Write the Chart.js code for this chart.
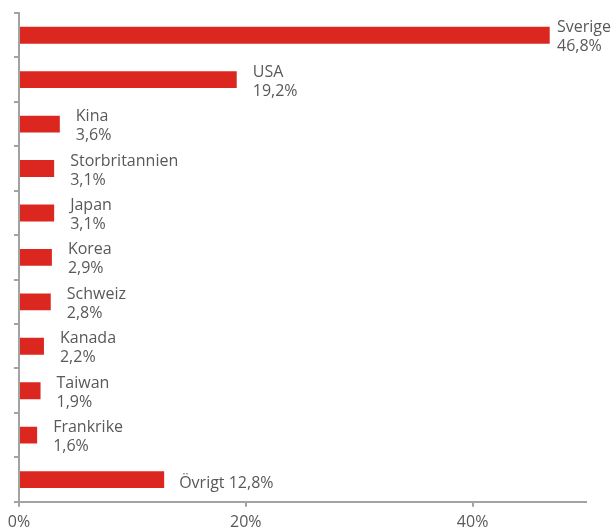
<!DOCTYPE html>
<html>
<head>
<meta charset="utf-8">
<script src="https://cdn.jsdelivr.net/npm/chart.js@4"></script>
<style>
    html, body { margin: 0; padding: 0; background: #fff; }
    #wrap { width: 613px; height: 528px; }
</style>
</head>
<body>
<div id="wrap"><canvas id="countryChart"></canvas></div>
<script>
const countries = ['Sverige', 'USA', 'Kina', 'Storbritannien', 'Japan', 'Korea', 'Schweiz', 'Kanada', 'Taiwan', 'Frankrike', 'Övrigt'];
const shares = [46.8, 19.2, 3.6, 3.1, 3.1, 2.9, 2.8, 2.2, 1.9, 1.6, 12.8];
const shareLabels = ['46,8%', '19,2%', '3,6%', '3,1%', '3,1%', '2,9%', '2,8%', '2,2%', '1,9%', '1,6%', '12,8%'];

const FONT = "'Open Sans', sans-serif";
const TEXT_COLOR = '#595959';
const AXIS_COLOR = '#a3a3a3';
const BAR_COLOR = '#dc2620';

// draws "name / value" next to each bar, last one on a single line
const barLabels = {
    id: 'barLabels',
    afterDatasetsDraw(chart) {
        const ctx = chart.ctx;
        const meta = chart.getDatasetMeta(0);
        ctx.save();
        ctx.font = `16px ${FONT}`;
        ctx.fillStyle = TEXT_COLOR;
        ctx.textAlign = 'left';
        ctx.textBaseline = 'alphabetic';
        meta.data.forEach((bar, i) => {
            const top = bar.y - bar.height / 2;
            const last = i === countries.length - 1;
            if (last) {
                ctx.fillText(`${countries[i]} ${shareLabels[i]}`, bar.x + 15, bar.y + 8.5);
                return;
            }
            const w = Math.max(ctx.measureText(countries[i]).width, ctx.measureText(shareLabels[i]).width);
            const x = Math.min(bar.x + 16, chart.width - w - 2);
            ctx.fillText(countries[i], x, top + 5.5);
            ctx.fillText(shareLabels[i], x, top + 24.5);
        });
        ctx.restore();
    }
};

new Chart(document.getElementById('countryChart').getContext('2d'), {
    type: 'bar',
    data: {
        labels: countries,
        datasets: [{
            data: shares,
            backgroundColor: BAR_COLOR,
            categoryPercentage: 1,
            barPercentage: 0.38
        }]
    },
    options: {
        indexAxis: 'y',
        responsive: true,
        maintainAspectRatio: false,
        animation: false,
        layout: { padding: { top: 13, left: 14, right: 27, bottom: -10 } },
        plugins: {
            legend: { display: false },
            tooltip: { enabled: false }
        },
        scales: {
            x: {
                min: 0,
                max: 50,
                border: { color: AXIS_COLOR, width: 2 },
                grid: { drawOnChartArea: false, drawTicks: true, tickLength: 5, color: AXIS_COLOR, lineWidth: 2 },
                ticks: {
                    stepSize: 20,
                    includeBounds: false,
                    padding: 6,
                    color: TEXT_COLOR,
                    font: { family: FONT, size: 16, lineHeight: 1.2 },
                    callback: v => v + '%'
                }
            },
            y: {
                border: { color: AXIS_COLOR, width: 2 },
                grid: { drawOnChartArea: false, drawTicks: true, tickLength: 5, color: AXIS_COLOR, lineWidth: 2 },
                ticks: { display: false }
            }
        }
    },
    plugins: [barLabels]
});
</script>
</body>
</html>
